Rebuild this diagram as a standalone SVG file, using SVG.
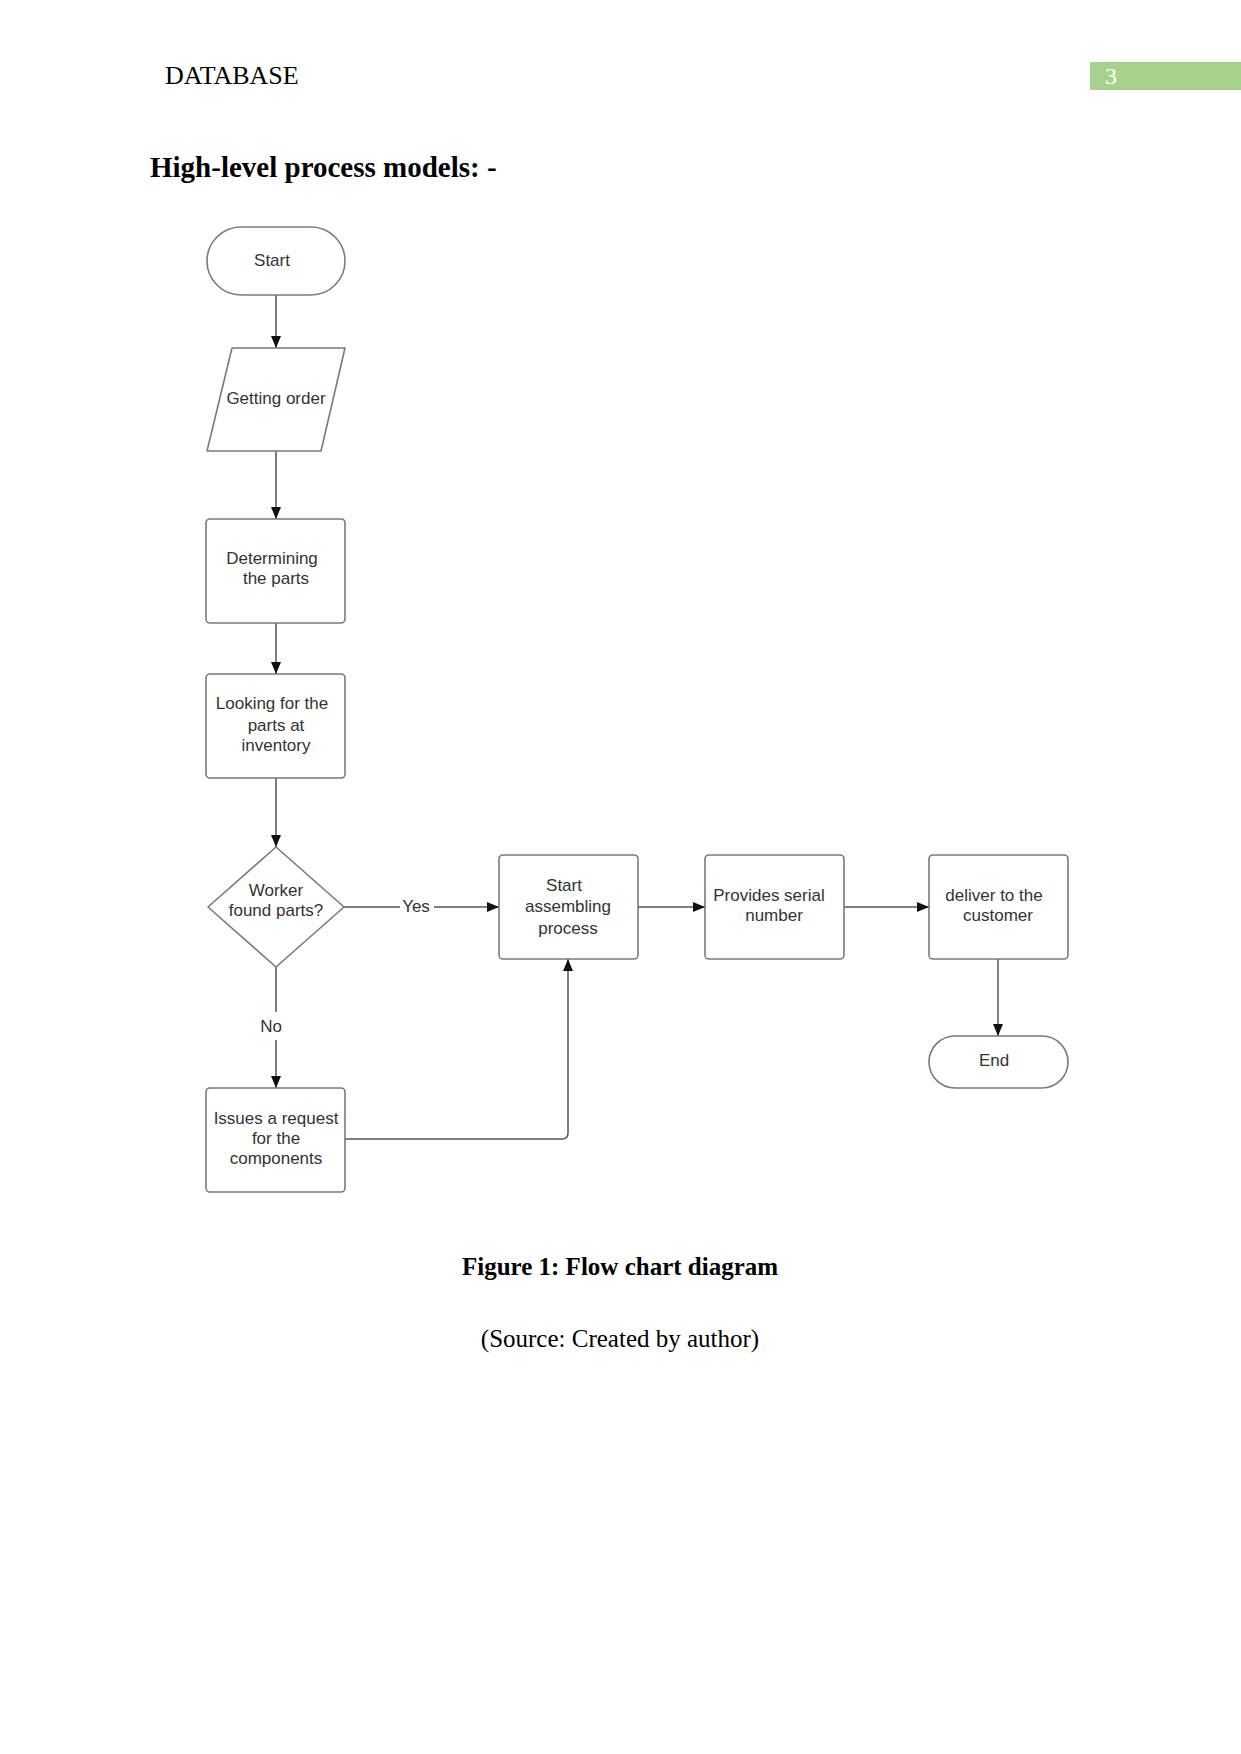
<svg xmlns="http://www.w3.org/2000/svg" width="1241" height="1754" viewBox="0 0 1241 1754">
<style>
.node{fill:#fff;stroke:#7a7a7a;stroke-width:1.6}
.lbl{font-family:"Liberation Sans",Arial,sans-serif;font-size:17px;fill:#333;text-anchor:middle}
.conn{fill:none;stroke:#555;stroke-width:1.5}
.doc{font-family:"Liberation Serif","Times New Roman",serif;fill:#000}
</style>
<defs>
<marker id="arr" markerUnits="userSpaceOnUse" markerWidth="13" markerHeight="10" refX="12" refY="5" orient="auto">
<path d="M0,0 L12,5 L0,10 Z" fill="#111"/>
</marker>
</defs>
<rect width="1241" height="1754" fill="#fff"/>
<text class="doc" x="165" y="84" font-size="26">DATABASE</text>
<rect x="1090" y="62" width="151" height="28" fill="#a9d18e"/>
<text x="1105" y="84" font-family="Liberation Serif,serif" font-size="24" fill="#fff">3</text>
<text class="doc" x="150" y="177" font-size="29" font-weight="bold">High-level process models: -</text>

<g id="connectors">
<path class="conn" d="M276,295 V348" marker-end="url(#arr)"/>
<path class="conn" d="M276,451 V519" marker-end="url(#arr)"/>
<path class="conn" d="M276,623 V674" marker-end="url(#arr)"/>
<path class="conn" d="M276,778 V847" marker-end="url(#arr)"/>
<path class="conn" d="M276,967 V1012 M276,1040 V1088" marker-end="url(#arr)"/>
<path class="conn" d="M344,907 H400 M434,907 H499" marker-end="url(#arr)"/>
<path class="conn" d="M638,907 H705" marker-end="url(#arr)"/>
<path class="conn" d="M844,907 H929" marker-end="url(#arr)"/>
<path class="conn" d="M998,959 V1036" marker-end="url(#arr)"/>
<path class="conn" d="M345,1139 H562 Q568,1139 568,1133 V959" marker-end="url(#arr)"/>
<text class="lbl" x="416" y="912">Yes</text>
<text class="lbl" x="271" y="1032">No</text>
</g>

<g id="start">
<rect class="node" x="207" y="227" width="138" height="68" rx="34"/>
<text class="lbl" x="272" y="266">Start</text>
</g>
<g id="getting-order">
<path class="node" d="M232,348 H345 L321,451 H207 Z" stroke-linejoin="round"/>
<text class="lbl" x="276" y="404">Getting order</text>
</g>
<g id="determining">
<rect class="node" x="206" y="519" width="139" height="104" rx="4"/>
<text class="lbl" x="272" y="564">Determining</text>
<text class="lbl" x="276" y="584">the parts</text>
</g>
<g id="looking">
<rect class="node" x="206" y="674" width="139" height="104" rx="4"/>
<text class="lbl" x="272" y="709">Looking for the</text>
<text class="lbl" x="276" y="731">parts at</text>
<text class="lbl" x="276" y="751">inventory</text>
</g>
<g id="decision">
<path class="node" d="M276,847 L344,907 L276,967 L208,907 Z" stroke-linejoin="round"/>
<text class="lbl" x="276" y="896">Worker</text>
<text class="lbl" x="276" y="916">found parts?</text>
</g>
<g id="assembling">
<rect class="node" x="499" y="855" width="139" height="104" rx="4"/>
<text class="lbl" x="564" y="891">Start</text>
<text class="lbl" x="568" y="912">assembling</text>
<text class="lbl" x="568" y="934">process</text>
</g>
<g id="serial">
<rect class="node" x="705" y="855" width="139" height="104" rx="4"/>
<text class="lbl" x="769" y="901">Provides serial</text>
<text class="lbl" x="774" y="921">number</text>
</g>
<g id="deliver">
<rect class="node" x="929" y="855" width="139" height="104" rx="4"/>
<text class="lbl" x="994" y="901">deliver to the</text>
<text class="lbl" x="998" y="921">customer</text>
</g>
<g id="end">
<rect class="node" x="929" y="1036" width="139" height="52" rx="26"/>
<text class="lbl" x="994" y="1066">End</text>
</g>
<g id="issues">
<rect class="node" x="206" y="1088" width="139" height="104" rx="4"/>
<text class="lbl" x="276" y="1124">Issues a request</text>
<text class="lbl" x="276" y="1144">for the</text>
<text class="lbl" x="276" y="1164">components</text>
</g>

<text class="doc" x="620" y="1275" font-size="25" font-weight="bold" text-anchor="middle">Figure 1: Flow chart diagram</text>
<text class="doc" x="620" y="1347" font-size="25" text-anchor="middle">(Source: Created by author)</text>
</svg>
